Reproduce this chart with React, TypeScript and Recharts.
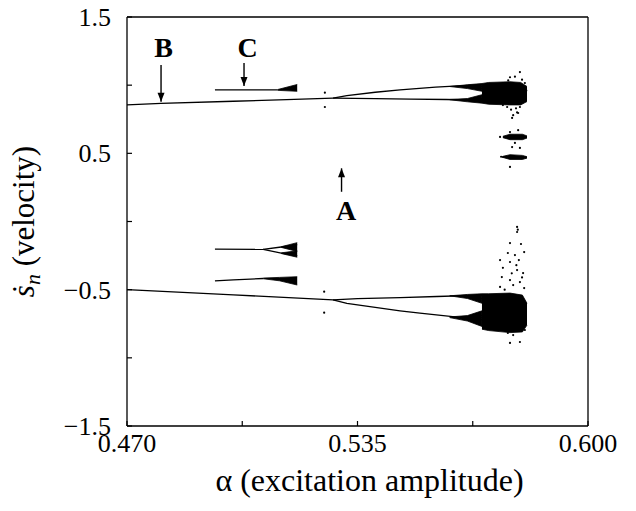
import React from 'react';
import {
  ComposedChart,
  Line,
  Area,
  Scatter,
  XAxis,
  YAxis,
  ReferenceLine,
  ReferenceDot,
} from 'recharts';

const FONT = '"Liberation Serif", "Times New Roman", serif';
const PLOT_TOP = 17;

// axis ticks (all tick positions, labels only on the major ones)
const xTickPositions = [0.47, 0.5025, 0.535, 0.5675, 0.6];
const xTicks = [0.47, 0.535, 0.6];
const xTickLabels = ['0.470', '0.535', '0.600'];
const yTickPositions = [-1.5, -1, -0.5, 0, 0.5, 1, 1.5];
const yTicks = [-1.5, -0.5, 0.5, 1.5];
const yTickLabels = ['\u22121.5', '\u22120.5', '0.5', '1.5'];
const xDomain = [0.47, 0.6];
const yDomain = [-1.5, 1.5];

// upper period-1 branch and period-2 branches
const upperMain = [
  { a: 0.47, v: 0.855 },
  { a: 0.4796, v: 0.866 },
  { a: 0.5, v: 0.882 },
  { a: 0.515, v: 0.894 },
  { a: 0.5281, v: 0.905 },
];
const upperTop = [
  { a: 0.5281, v: 0.905 },
  { a: 0.532, v: 0.924 },
  { a: 0.54, v: 0.948 },
  { a: 0.547, v: 0.965 },
  { a: 0.557, v: 0.985 },
  { a: 0.5701, v: 1.004 },
];
const upperBottom = [
  { a: 0.5281, v: 0.905 },
  { a: 0.54, v: 0.902 },
  { a: 0.55, v: 0.898 },
  { a: 0.56, v: 0.895 },
  { a: 0.5701, v: 0.89 },
];

// lower period-1 branch and period-2 branches
const lowerMain = [
  { a: 0.47, v: -0.5 },
  { a: 0.5, v: -0.538 },
  { a: 0.5281, v: -0.575 },
];
const lowerTop = [
  { a: 0.5281, v: -0.575 },
  { a: 0.535, v: -0.566 },
  { a: 0.547, v: -0.558 },
  { a: 0.5574, v: -0.55 },
  { a: 0.5701, v: -0.54 },
];
const lowerBottom = [
  { a: 0.5281, v: -0.575 },
  { a: 0.532, v: -0.6 },
  { a: 0.54, v: -0.63 },
  { a: 0.547, v: -0.655 },
  { a: 0.5526, v: -0.672 },
  { a: 0.5625, v: -0.7 },
  { a: 0.5701, v: -0.72 },
];

// thickening bands and chaotic cores [low, high]
const upperTopBand = [
  { a: 0.561, r: [0.99, 0.99] },
  { a: 0.566, r: [0.975, 1.003] },
  { a: 0.5701, r: [0.955, 1.012] },
];
const upperBottomBand = [
  { a: 0.561, r: [0.893, 0.895] },
  { a: 0.566, r: [0.878, 0.902] },
  { a: 0.5701, r: [0.868, 0.93] },
];
const upperCore = [
  { a: 0.5701, r: [0.868, 1.012] },
  { a: 0.572, r: [0.86, 1.02] },
  { a: 0.578, r: [0.855, 1.025] },
  { a: 0.581, r: [0.855, 1.02] },
  { a: 0.5828, r: [0.88, 0.99] },
];
const lowerTopBand = [
  { a: 0.561, r: [-0.545, -0.545] },
  { a: 0.566, r: [-0.565, -0.535] },
  { a: 0.5701, r: [-0.6, -0.53] },
];
const lowerBottomBand = [
  { a: 0.561, r: [-0.705, -0.7] },
  { a: 0.566, r: [-0.73, -0.69] },
  { a: 0.5701, r: [-0.77, -0.655] },
];
const lowerCore = [
  { a: 0.5701, r: [-0.79, -0.53] },
  { a: 0.572, r: [-0.8, -0.53] },
  { a: 0.578, r: [-0.815, -0.525] },
  { a: 0.5815, r: [-0.81, -0.54] },
  { a: 0.5828, r: [-0.76, -0.6] },
];
const island1 = [
  { a: 0.576, r: [0.615, 0.625] },
  { a: 0.578, r: [0.6, 0.64] },
  { a: 0.5815, r: [0.6, 0.64] },
  { a: 0.5828, r: [0.612, 0.628] },
];
const island2 = [
  { a: 0.576, r: [0.47, 0.478] },
  { a: 0.578, r: [0.455, 0.49] },
  { a: 0.5815, r: [0.455, 0.485] },
  { a: 0.5828, r: [0.465, 0.475] },
];

// window C
const cUpperLine = [
  { a: 0.4948, v: 0.965 },
  { a: 0.5125, v: 0.966 },
];
const cUpperBand = [
  { a: 0.5125, r: [0.962, 0.968] },
  { a: 0.518, r: [0.955, 1.005] },
];
const cLow1Line = [
  { a: 0.4948, v: -0.202 },
  { a: 0.5084, v: -0.205 },
];
const cLow1Top = [
  { a: 0.5084, v: -0.205 },
  { a: 0.5135, v: -0.187 },
  { a: 0.518, v: -0.17 },
];
const cLow1Bottom = [
  { a: 0.5084, v: -0.205 },
  { a: 0.5135, v: -0.232 },
  { a: 0.518, v: -0.25 },
];
const cLow1TopBand = [
  { a: 0.5135, r: [-0.19, -0.185] },
  { a: 0.518, r: [-0.22, -0.155] },
];
const cLow1BottomBand = [
  { a: 0.5135, r: [-0.235, -0.23] },
  { a: 0.518, r: [-0.262, -0.215] },
];
const cLow2Line = [
  { a: 0.4948, v: -0.435 },
  { a: 0.5, v: -0.428 },
  { a: 0.5084, v: -0.418 },
];
const cLow2Band = [
  { a: 0.5084, r: [-0.42, -0.415] },
  { a: 0.513, r: [-0.435, -0.41] },
  { a: 0.518, r: [-0.466, -0.405] },
];

// scattered chaotic points
const upperScatter = [
  { a: 0.578, v: 1.058 }, { a: 0.5808, v: 1.096 }, { a: 0.5794, v: 1.062 },
  { a: 0.5822, v: 1.016 }, { a: 0.5825, v: 0.942 }, { a: 0.5817, v: 0.876 },
  { a: 0.5808, v: 0.84 }, { a: 0.58, v: 0.8 }, { a: 0.5786, v: 0.76 },
  { a: 0.5789, v: 0.78 }, { a: 0.5803, v: 0.796 }, { a: 0.5772, v: 0.84 },
  { a: 0.576, v: 0.854 }, { a: 0.5814, v: 1.04 }, { a: 0.5769, v: 1.016 },
  { a: 0.5819, v: 0.986 }, { a: 0.5775, v: 1.035 }, { a: 0.5797, v: 0.83 },
  { a: 0.5812, v: 0.9 }, { a: 0.5826, v: 0.96 }, { a: 0.5783, v: 0.82 },
  { a: 0.578, v: 0.656 }, { a: 0.5803, v: 0.67 }, { a: 0.5786, v: 0.546 },
  { a: 0.5808, v: 0.54 }, { a: 0.5794, v: 0.576 }, { a: 0.578, v: 0.4 },
  { a: 0.576, v: 0.473 }, { a: 0.5752, v: 0.62 }, { a: 0.5822, v: 0.62 },
  { a: 0.5755, v: 0.475 }, { a: 0.5824, v: 0.47 },
  { a: 0.5258, v: 0.84 }, { a: 0.5258, v: 0.945 },
];
const lowerScatter = [
  { a: 0.58, v: -0.04 }, { a: 0.58, v: -0.077 }, { a: 0.5802, v: -0.06 },
  { a: 0.578, v: -0.158 }, { a: 0.5811, v: -0.165 }, { a: 0.5774, v: -0.231 },
  { a: 0.5794, v: -0.246 }, { a: 0.582, v: -0.224 }, { a: 0.5752, v: -0.283 },
  { a: 0.578, v: -0.297 }, { a: 0.5805, v: -0.283 }, { a: 0.576, v: -0.34 },
  { a: 0.58, v: -0.356 }, { a: 0.5817, v: -0.378 }, { a: 0.5757, v: -0.408 },
  { a: 0.578, v: -0.43 }, { a: 0.5808, v: -0.444 }, { a: 0.5752, v: -0.48 },
  { a: 0.5789, v: -0.466 }, { a: 0.582, v: -0.488 }, { a: 0.5774, v: -0.818 },
  { a: 0.5789, v: -0.833 }, { a: 0.5808, v: -0.884 }, { a: 0.578, v: -0.891 },
  { a: 0.5822, v: -0.796 }, { a: 0.576, v: -0.774 }, { a: 0.5765, v: -0.5 },
  { a: 0.5798, v: -0.32 }, { a: 0.5814, v: -0.41 }, { a: 0.5785, v: -0.38 },
  { a: 0.5256, v: -0.515 }, { a: 0.5256, v: -0.669 },
];

// annotations: label text, arrow start, arrow tip
const annotations = [
  { text: 'B', tx: 0.4803, ty: 1.207, ax: 0.4796, from: 1.148, to: 0.879, dir: 'down' },
  { text: 'C', tx: 0.504, ty: 1.207, ax: 0.503, from: 1.163, to: 0.994, dir: 'down' },
  { text: 'A', tx: 0.5318, ty: 0.011, ax: 0.5305, from: 0.218, to: 0.39, dir: 'up' },
];

const XTick = (props: any) => {
  const { x, y, payload } = props;
  const i = xTicks.indexOf(payload.value);
  if (i < 0) return <g />;
  return (
    <text x={x} y={y} dy="0.71em" textAnchor="middle" fontFamily={FONT} fontSize={26} fill="#000">
      {xTickLabels[i]}
    </text>
  );
};

const YTick = (props: any) => {
  const { x, y, payload } = props;
  const i = yTicks.indexOf(payload.value);
  if (i < 0) return <g />;
  return (
    <text x={x} y={y} dy="0.35em" textAnchor="end" fontFamily={FONT} fontSize={26} fill="#000">
      {yTickLabels[i]}
    </text>
  );
};

// x-axis title; also closes the plot frame (top and right edges) from the axis box
const XLabel = (props: any) => {
  const vb = props.viewBox || props;
  const cx = vb.x + vb.width / 2 + 12;
  const cy = vb.y + 65;
  const right = vb.x + vb.width;
  return (
    <g>
      <line x1={vb.x} y1={PLOT_TOP} x2={right} y2={PLOT_TOP} stroke="#000" strokeWidth={1.3} />
      <line x1={right} y1={PLOT_TOP} x2={right} y2={vb.y} stroke="#000" strokeWidth={1.3} />
      <text x={cx} y={cy} textAnchor="middle" fontFamily={FONT} fontSize={32} fill="#000">
        {'\u03b1 (excitation amplitude)'}
      </text>
    </g>
  );
};

const YLabel = (props: any) => {
  const vb = props.viewBox || props;
  const cx = vb.x + 34;
  const cy = vb.y + vb.height / 2;
  return (
    <text
      x={cx}
      y={cy}
      transform={`rotate(-90, ${cx}, ${cy})`}
      textAnchor="middle"
      fontFamily={FONT}
      fontSize={31}
      fill="#000"
    >
      <tspan fontStyle="italic">{'\u1e61'}</tspan>
      <tspan fontStyle="italic" fontSize={22} dy={6}>n</tspan>
      <tspan dy={-6}>{' (velocity)'}</tspan>
    </text>
  );
};

const dotShape = (p: any) => <circle cx={p.cx} cy={p.cy} r={1.1} fill="#000" />;

const lineProps = {
  type: 'linear' as const,
  dataKey: 'v',
  stroke: '#000',
  strokeWidth: 1.3,
  dot: false,
  activeDot: false,
  isAnimationActive: false,
  legendType: 'none' as const,
};

const areaProps = {
  type: 'linear' as const,
  dataKey: 'r',
  stroke: '#000',
  strokeWidth: 0.8,
  fill: '#000',
  fillOpacity: 1,
  dot: false,
  activeDot: false,
  isAnimationActive: false,
  legendType: 'none' as const,
};

const frameLine = { stroke: '#000', strokeWidth: 1.3 };
const tickLineStyle = { stroke: '#000', strokeWidth: 1.2 };

export default function App() {
  const lines = [upperMain, upperTop, upperBottom, lowerMain, lowerTop, lowerBottom,
    cUpperLine, cLow1Line, cLow1Top, cLow1Bottom, cLow2Line];
  const areas = [upperTopBand, upperBottomBand, upperCore, lowerTopBand, lowerBottomBand,
    lowerCore, island1, island2, cUpperBand, cLow1TopBand, cLow1BottomBand, cLow2Band];
  return (
    <div style={{ position: 'absolute', left: 0, top: 0, width: 636, height: 511, background: '#fff' }}>
      <ComposedChart width={636} height={511} margin={{ top: PLOT_TOP, right: 48, bottom: 0, left: 0 }}>
        <XAxis
          dataKey="a"
          type="number"
          domain={xDomain}
          ticks={xTickPositions}
          interval={0}
          tick={<XTick />}
          tickLine={tickLineStyle}
          axisLine={frameLine}
          tickSize={-5}
          tickMargin={13}
          height={85}
          label={{ content: <XLabel /> }}
        />
        <YAxis
          type="number"
          domain={yDomain}
          ticks={yTickPositions}
          interval={0}
          tick={<YTick />}
          tickLine={tickLineStyle}
          axisLine={frameLine}
          tickSize={-5}
          tickMargin={21}
          width={127}
          label={{ content: <YLabel /> }}
        />
        {areas.map((d, i) => (
          <Area key={`ar${i}`} data={d} {...areaProps} />
        ))}
        {lines.map((d, i) => (
          <Line key={`ln${i}`} data={d} {...lineProps} />
        ))}
        <Scatter data={upperScatter} dataKey="v" shape={dotShape} isAnimationActive={false} legendType="none" />
        <Scatter data={lowerScatter} dataKey="v" shape={dotShape} isAnimationActive={false} legendType="none" />
        {annotations.map((an) => (
          <ReferenceLine
            key={`arl${an.text}`}
            segment={[{ x: an.ax, y: an.from }, { x: an.ax, y: an.to }]}
            stroke="#000"
            strokeWidth={1.4}
          />
        ))}
        {annotations.map((an) => (
          <ReferenceDot
            key={`arh${an.text}`}
            x={an.ax}
            y={an.to}
            r={1}
            shape={(p: any) =>
              an.dir === 'down' ? (
                <path d={`M${p.cx},${p.cy} L${p.cx - 3.5},${p.cy - 9} L${p.cx + 3.5},${p.cy - 9} Z`} fill="#000" />
              ) : (
                <path d={`M${p.cx},${p.cy} L${p.cx - 3.5},${p.cy + 9} L${p.cx + 3.5},${p.cy + 9} Z`} fill="#000" />
              )
            }
          />
        ))}
        {annotations.map((an) => (
          <ReferenceDot
            key={`txt${an.text}`}
            x={an.tx}
            y={an.ty}
            r={1}
            shape={(p: any) => (
              <text x={p.cx} y={p.cy} textAnchor="middle" fontFamily={FONT} fontWeight="bold" fontSize={28} fill="#000">
                {an.text}
              </text>
            )}
          />
        ))}
      </ComposedChart>
    </div>
  );
}
